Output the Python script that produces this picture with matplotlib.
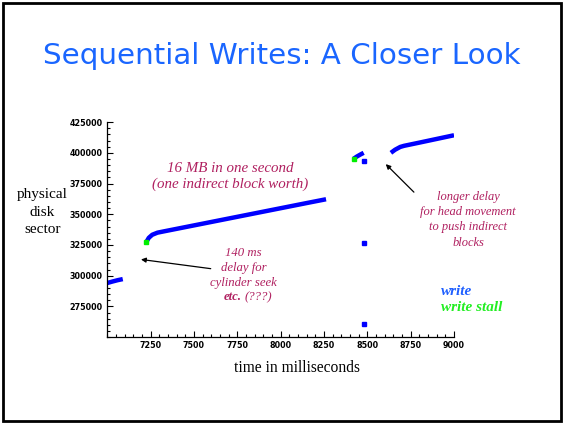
import numpy as np
import matplotlib.pyplot as plt
from matplotlib.patches import Rectangle
from matplotlib.ticker import MultipleLocator

serif = ['Liberation Serif', 'DejaVu Serif']

# write segments (time ms, sector)
seg1_t = [7000, 7030, 7060, 7090]
seg1_s = [294000, 295200, 296300, 297200]
seg2_t = [7228, 7240, 7260, 7290, 7325, 7400, 7600, 7800, 8000, 8150, 8262]
seg2_s = [327900, 330800, 333300, 335000, 336000, 338100, 343700, 349300, 354900, 359100, 362200]
seg3_t = [8421, 8440, 8460, 8479]
seg3_s = [395200, 397000, 398600, 400000]
seg4_t = [8636, 8660, 8690, 8712, 8800, 8900, 9000]
seg4_s = [400000, 402500, 404800, 405700, 408300, 411300, 414300]
# lone writes
pts_t = [8479, 8479, 8479]
pts_s = [393400, 326600, 261000]
# write stalls
stall_t = [7226, 8421]
stall_s = [327600, 395000]

fig = plt.figure(figsize=(5.64, 4.24), dpi=100)
fig.patches.append(Rectangle((0.006, 0.006), 0.988, 0.988, transform=fig.transFigure,
                             fill=False, edgecolor='black', linewidth=2))
fig.text(0.5, 0.868, 'Sequential Writes: A Closer Look', ha='center', va='center',
         fontsize=21.2, color='#1a66ff', family='DejaVu Sans')

ax = fig.add_axes([0.190, 0.205, 0.615, 0.507])
blue = '#0000ff'
for t, s in [(seg1_t, seg1_s), (seg2_t, seg2_s), (seg3_t, seg3_s), (seg4_t, seg4_s)]:
    ax.plot(t, s, color=blue, linewidth=3.2, solid_capstyle='butt')
ax.plot(pts_t, pts_s, 's', color=blue, markersize=2.8)
ax.plot(stall_t, stall_s, 's', color='#00ee00', markersize=3)

ax.set_xlim(7000, 9000)
ax.set_ylim(250000, 425000)
ax.xaxis.set_minor_locator(MultipleLocator(50))
ax.yaxis.set_minor_locator(MultipleLocator(5000))
ax.set_xticks([7250, 7500, 7750, 8000, 8250, 8500, 8750, 9000])
ax.set_yticks([275000, 300000, 325000, 350000, 375000, 400000, 425000])
ax.tick_params(which='both', direction='in', width=0.8, labelsize=5.8, pad=3)
ax.tick_params(which='major', length=4)
ax.tick_params(which='minor', length=2)
for lab in ax.get_xticklabels() + ax.get_yticklabels():
    lab.set_fontweight('bold')
for side in ['top', 'right']:
    ax.spines[side].set_visible(False)
ax.spines['left'].set_linewidth(0.9)
ax.spines['bottom'].set_linewidth(0.9)

fig.text(0.527, 0.132, 'time in milliseconds', ha='center', va='center',
         fontsize=11.2, family=serif)
fig.text(0.075, 0.500, 'physical\ndisk\nsector', ha='center', va='center',
         fontsize=11, family=serif, linespacing=1.45)

red = '#b02060'
ax.text(7711, 380600, '16 MB in one second\n(one indirect block worth)', ha='center',
        va='center', fontsize=10.8, style='italic', color=red, family=serif, linespacing=1.3)
ax.text(7786, 306200, '140 ms\ndelay for\ncylinder seek', ha='center', va='center',
        fontsize=9.2, style='italic', color=red, family=serif, linespacing=1.35)
ax.text(7773, 282600, 'etc.', ha='right', va='center', fontsize=9.2,
        style='italic', weight='bold', color=red, family=serif)
ax.text(7790, 282600, '(???)', ha='left', va='center', fontsize=9.2,
        style='italic', color=red, family=serif)
ax.text(9081, 345400, 'longer delay\nfor head movement\nto push indirect\nblocks', ha='center',
        va='center', fontsize=9, style='italic', color=red, family=serif, linespacing=1.35)
ax.annotate('', xy=(7179, 313500), xytext=(7613, 305400),
            arrowprops=dict(arrowstyle='-|>', color='black', lw=0.9, mutation_scale=7))
ax.annotate('', xy=(8595, 392400), xytext=(8780, 366400),
            arrowprops=dict(arrowstyle='-|>', color='black', lw=0.9, mutation_scale=7))
ax.text(8925, 287400, 'write', ha='left', va='center', fontsize=11, style='italic',
        weight='bold', color='#2060ff', family=serif)
ax.text(8925, 274400, 'write stall', ha='left', va='center', fontsize=11, style='italic',
        weight='bold', color='#22ee22', family=serif)

fig.savefig('out.png', dpi=100)
